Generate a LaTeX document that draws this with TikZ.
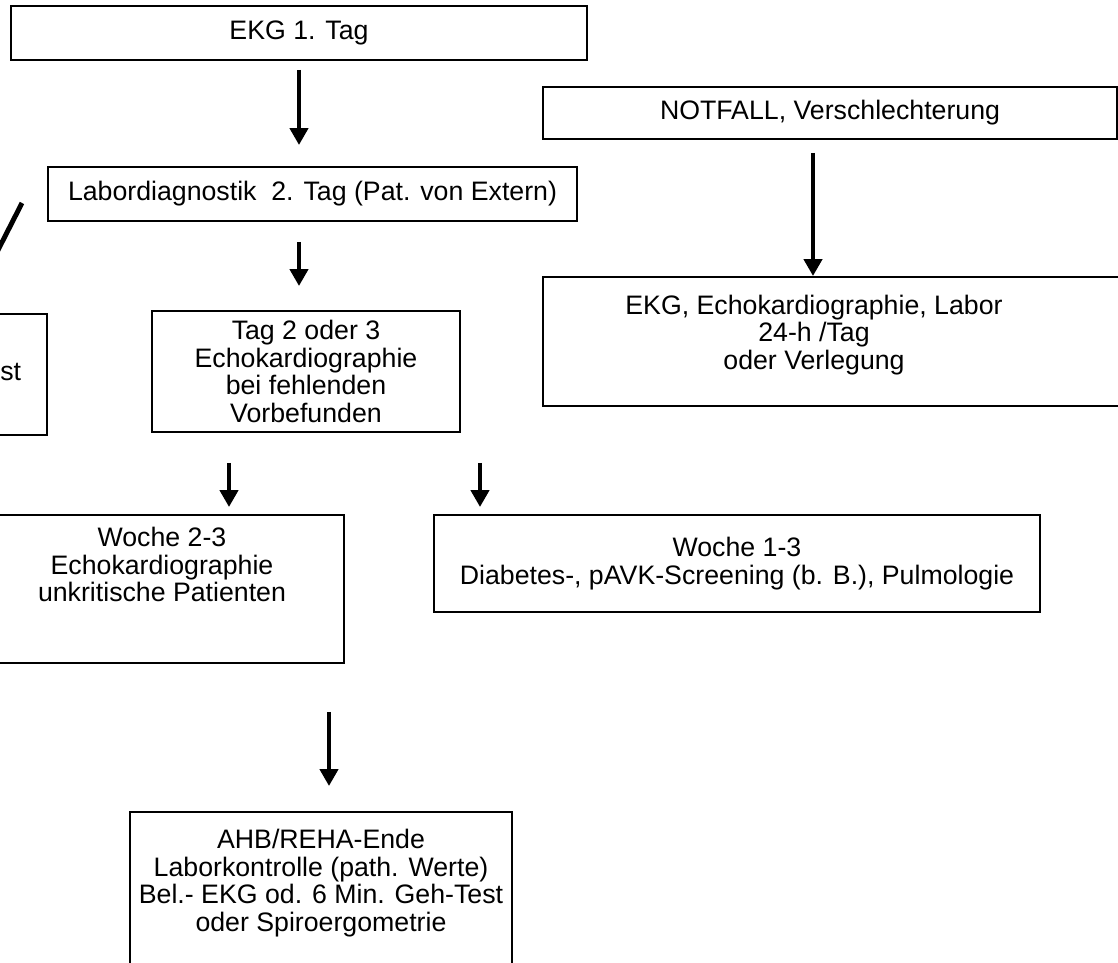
\documentclass[tikz,border=0pt]{standalone}
\usepackage{fontspec}
\setmainfont{Liberation Sans}
\usetikzlibrary{arrows.meta}

\begin{document}
\begin{tikzpicture}[font=\fontsize{15.2}{15.7}\selectfont]
    % Styles for boxes and lines
    \tikzset{
      box/.style={rectangle, draw=black, line width=1.1pt, align=center, inner sep=0pt},
      txt/.style={align=center, inner sep=0pt},
      arrow/.style={line width=2.8pt, -{Triangle[length=0.34cm, width=0.36cm]}}
    }
    \useasboundingbox (0,0) rectangle (22.36,-19.26);

    % Nodes with explicit coordinates
    \node[box, minimum width=11.52cm, minimum height=1.08cm] (ekg1) at (5.98,-0.66) {EKG 1. Tag};
    \node[box, minimum width=11.48cm, minimum height=1.04cm] (notfall) at (16.6,-2.26) {NOTFALL, Verschlechterung};
    \node[box, minimum width=10.58cm, minimum height=1.08cm] (labor) at (6.25,-3.88) {Labordiagnostik~ 2. Tag (Pat. von Extern)};
    \node[box, minimum width=6.16cm, minimum height=2.42cm] (tag2) at (6.12,-7.43) {Tag 2 oder 3\\Echokardiographie\\bei fehlenden\\Vorbefunden};

    \node[box, minimum width=11.94cm, minimum height=2.58cm] (echo) at (16.83,-6.83) {};
    \node[txt] (echotext) at (16.28,-6.7) {EKG, Echokardiographie, Labor\\24-h /Tag\\oder Verlegung};

    \node[box, minimum width=6.94cm, minimum height=2.42cm] (links) at (-2.53,-7.49) {};
    \node[txt, anchor=east] (linkstext) at (0.43,-7.44) {st};

    \node[box, minimum width=7.28cm, minimum height=2.96cm] (woche23) at (3.24,-11.78) {};
    \node[txt] (woche23text) at (3.24,-11.29) {Woche 2-3\\Echokardiographie\\unkritische Patienten};
    \node[box, minimum width=12.12cm, minimum height=1.94cm] (woche13) at (14.74,-11.27) {Woche 1-3\\Diabetes-, pAVK-Screening (b. B.), Pulmologie};

    \node[box, minimum width=7.64cm, minimum height=3.56cm] (ahb) at (6.42,-18.02) {};
    \node[txt] (ahbtext) at (6.42,-17.66) {AHB/REHA-Ende\\Laborkontrolle (path. Werte)\\Bel.- EKG od. 6 Min. Geh-Test\\oder Spiroergometrie};

    \coordinate (diagtail) at (0.44,-4.06);
    \coordinate (diagtip) at (-0.6,-6.1);

    % Arrows
    \draw[arrow, shorten <=0.18cm, shorten >=0.42cm] (ekg1.south) -- (ekg1.south |- labor.north);
    \draw[arrow, shorten <=0.26cm] ([xshift=-0.34cm]notfall.south) -- ([xshift=-0.34cm]notfall.south |- echo.north);
    \draw[arrow, shorten <=0.4cm, shorten >=0.48cm] (ekg1.south |- labor.south) -- (ekg1.south |- tag2.north);
    \draw[arrow, shorten <=0.6cm, shorten >=0.14cm] ([xshift=-1.54cm]tag2.south) -- ([xshift=-1.54cm]tag2.south |- woche23.north);
    \draw[arrow, shorten <=0.6cm, shorten >=0.14cm] ([xshift=3.48cm]tag2.south) -- ([xshift=3.48cm]tag2.south |- woche13.north);
    \draw[arrow, shorten <=0.96cm, shorten >=0.5cm] ([xshift=0.16cm]ahb.north |- woche23.south) -- ([xshift=0.16cm]ahb.north);
    \draw[arrow] (diagtail) -- (diagtip);

\end{tikzpicture}
\end{document}
